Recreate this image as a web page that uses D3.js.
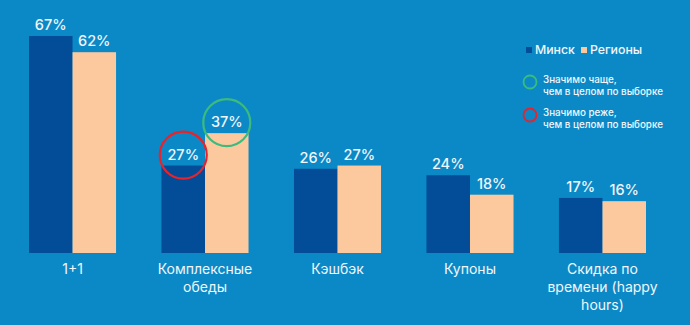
<!DOCTYPE html>
<html>
<head>
<meta charset="utf-8">
<script src="https://cdn.jsdelivr.net/npm/d3@7/dist/d3.min.js"></script>
<style>
  html, body { margin: 0; padding: 0; background: #0b89c7; }
  svg { display: block; }
  text { font-family: Inter, "Noto Sans", sans-serif; }
</style>
</head>
<body>
<svg id="chart" width="690" height="325"></svg>
<script>
// Categories (line breaks mark where the axis label wraps)
const categories = ["1+1", "Комплексные\nобеды", "Кэшбэк", "Купоны", "Скидка по\nвремени (happy\nhours)"];
const seriesNames = ["Минск", "Регионы"];
const minskValues = [67, 27, 26, 24, 17];
const regionValues = [62, 37, 27, 18, 16];
// Significance marks: index of category, series, direction
const markCategory = [1, 1];
const markSeries = ["Минск", "Регионы"];
const markType = ["lower", "higher"];
const noteTexts = {
  higher: ["Значимо чаще,", "чем в целом по выборке"],
  lower: ["Значимо реже,", "чем в целом по выборке"]
};

const colors = { "Минск": "#034c98", "Регионы": "#fcc99e" };
const markColors = { higher: "#3bbb7d", lower: "#e8232b" };
const textColor = "#f2f6fa";

const svg = d3.select("#chart");
svg.append("rect").attr("width", 690).attr("height", 325).attr("fill", "#0b89c7");

const x = d3.scaleBand()
  .domain(categories)
  .range([29, 646])
  .paddingInner(0.343)
  .paddingOuter(0);

const x1 = d3.scaleBand()
  .domain(seriesNames)
  .range([0, x.bandwidth()])
  .padding(0);

const y = d3.scaleLinear().domain([0, 67]).range([253, 36]);

const rows = categories.map((c, i) => ({
  cat: c,
  values: [
    { series: "Минск", value: minskValues[i] },
    { series: "Регионы", value: regionValues[i] }
  ]
}));

const groups = svg.append("g").selectAll("g")
  .data(rows).join("g")
  .attr("transform", d => `translate(${x(d.cat)},0)`);

groups.selectAll("rect")
  .data(d => d.values).join("rect")
  .attr("x", d => x1(d.series))
  .attr("y", d => y(d.value))
  .attr("width", x1.bandwidth())
  .attr("height", d => y(0) - y(d.value))
  .attr("fill", d => colors[d.series]);

groups.selectAll("text.val")
  .data(d => d.values).join("text")
  .attr("class", "val")
  .attr("x", d => x1(d.series) + x1.bandwidth() / 2)
  .attr("y", d => y(d.value) - 6)
  .attr("text-anchor", "middle")
  .attr("fill", textColor)
  .attr("font-size", 14.5)
  .attr("font-weight", 500)
  .text(d => d.value + "%");

// Significance circles around value labels
markCategory.forEach((ci, k) => {
  const s = markSeries[k];
  const v = s === "Минск" ? minskValues[ci] : regionValues[ci];
  const cx = x(categories[ci]) + x1(s) + x1.bandwidth() / 2;
  svg.append("circle")
    .attr("cx", cx)
    .attr("cy", y(v) - 10.5)
    .attr("r", 23.5)
    .attr("fill", "none")
    .attr("stroke", markColors[markType[k]])
    .attr("stroke-width", 2.2);
});

// Category axis
const axis = svg.append("g")
  .attr("transform", "translate(0,253)")
  .call(d3.axisBottom(x).tickSize(0).tickPadding(0));
axis.select(".domain").remove();
axis.selectAll("text")
  .attr("fill", textColor)
  .attr("font-size", 14)
  .attr("font-family", "Inter, 'Noto Sans', sans-serif")
  .attr("dy", null)
  .attr("y", 0)
  .each(function (d) {
    const t = d3.select(this);
    t.text(null);
    d.split("\n").forEach((line, i) => {
      t.append("tspan")
        .attr("x", 0)
        .attr("y", 21 + i * 18)
        .text(line);
    });
  });

// Legend
const legend = svg.append("g");
const legendX = [526, 581];
seriesNames.forEach((s, i) => {
  legend.append("rect")
    .attr("x", legendX[i]).attr("y", 47)
    .attr("width", 6).attr("height", 6)
    .attr("fill", colors[s]);
  legend.append("text")
    .attr("x", legendX[i] + 9).attr("y", 54)
    .attr("fill", textColor)
    .attr("font-size", 12.3)
    .attr("font-weight", 500)
    .text(s);
});

const noteTypes = ["higher", "lower"];
const noteY = [82, 115];
noteTypes.forEach((t, i) => {
  legend.append("circle")
    .attr("cx", 530).attr("cy", noteY[i])
    .attr("r", 6.5)
    .attr("fill", "none")
    .attr("stroke", markColors[t])
    .attr("stroke-width", 1.8);
  noteTexts[t].forEach((line, j) => {
    legend.append("text")
      .attr("x", 543).attr("y", noteY[i] + 1 + j * 12)
      .attr("fill", textColor)
      .attr("font-size", 9.8)
      .attr("font-weight", 500)
      .text(line);
  });
});
</script>
</body>
</html>
